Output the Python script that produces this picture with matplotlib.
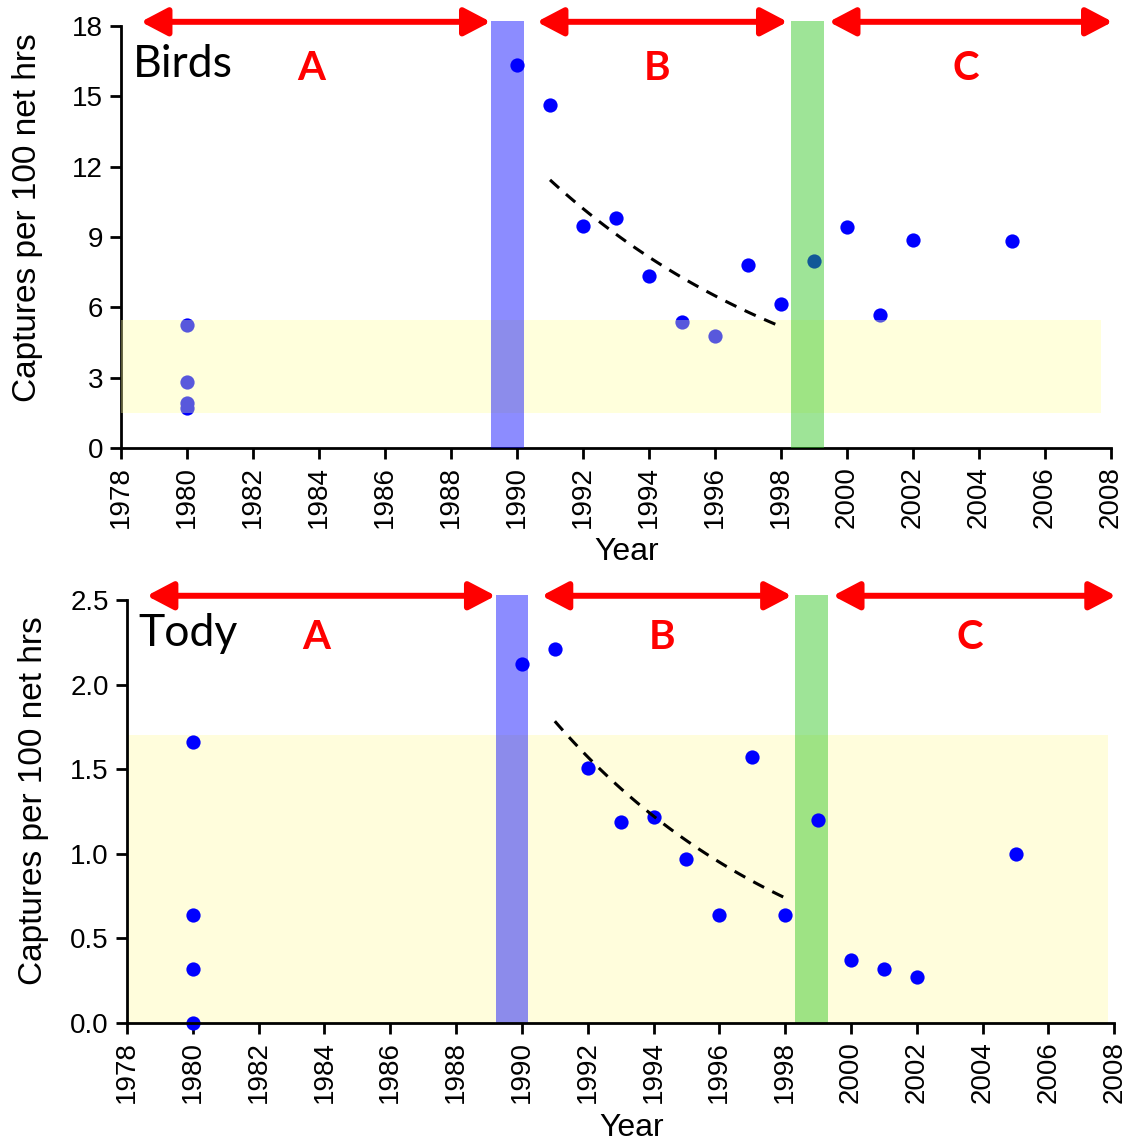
import matplotlib
matplotlib.use('Agg')
import matplotlib.pyplot as plt
import numpy as np

plt.rcParams['font.family'] = ['Liberation Sans', 'DejaVu Sans']

# captures per 100 net hours, by year
birds_years = [1980, 1980, 1980, 1980, 1990, 1991, 1992, 1993, 1994, 1995,
               1996, 1997, 1998, 1999, 2000, 2001, 2002, 2005]
birds_rates = [5.25, 2.8, 1.9, 1.7, 16.35, 14.63, 9.47, 9.81, 7.34, 5.38,
               4.78, 7.81, 6.14, 7.98, 9.43, 5.67, 8.87, 8.83]

tody_years = [1980, 1980, 1980, 1980, 1990, 1991, 1992, 1993, 1994, 1995,
              1996, 1997, 1998, 1999, 2000, 2001, 2002, 2005]
tody_rates = [1.66, 0.64, 0.32, 0.0, 2.12, 2.21, 1.51, 1.19, 1.22, 0.97,
              0.64, 1.57, 0.64, 1.20, 0.37, 0.32, 0.27, 1.00]

# hurricane years (Hugo, Georges) and the recovery periods between them
hugo = (1989.2, 1990.2)
georges = (1998.3, 1999.3)
periods = [('A', 1978.6, 1989.2), ('B', 1990.6, 1998.2), ('C', 1999.45, 2008.05)]
fit_years = (1991, 1998)

birds_baseline = (1.5, 5.45)
tody_baseline = (0.0, 1.7)

RED = '#ff0000'
LABEL_FONT = ['Lato', 'DejaVu Sans']


def exp_trend(years, rates):
    """Least squares exponential fit, like an Excel trendline."""
    x = np.array(years, dtype=float)
    y = np.array(rates, dtype=float)
    m = (x >= fit_years[0]) & (x <= fit_years[1])
    slope, icept = np.polyfit(x[m], np.log(y[m]), 1)
    xs = np.linspace(fit_years[0], fit_years[1], 60)
    return xs, np.exp(icept + slope * xs)


def draw_panel(ax, years, rates, ymax, yticks, fmt, name, baseline,
               bands_on_top, text_y, ylabel_y):
    ax.set_xlim(1978, 2008)
    ax.set_ylim(0, ymax)

    z_band = 3 if bands_on_top else 1
    if bands_on_top:
        ax.axhspan(*baseline, xmin=0, xmax=(2007.7 - 1978) / 30,
                   color=(1.0, 1.0, 0.61), alpha=0.35, lw=0, zorder=z_band)
    else:
        ax.axhspan(*baseline, xmin=0, xmax=(2007.8 - 1978) / 30,
                   color='#fffddc', lw=0, zorder=z_band)

    band_top = ymax * 1.012
    ax.fill_between(hugo, 0, band_top, color='#0000ff', alpha=0.45, lw=0,
                    zorder=z_band + 0.5, clip_on=False)
    ax.fill_between(georges, 0, band_top, color=(0.16, 0.77, 0.10), alpha=0.45,
                    lw=0, zorder=z_band + 0.5, clip_on=False)

    ax.scatter(years, rates, s=105, color='#0000ff', lw=0, zorder=2,
               clip_on=False)

    xs, ys = exp_trend(years, rates)
    ax.plot(xs, ys, color='black', lw=2.2, ls=(0, (4, 3)), zorder=5)

    arrow_y = ymax * 1.01
    for letter, x0, x1 in periods:
        ax.annotate('', xy=(x1, arrow_y), xytext=(x0, arrow_y),
                    arrowprops=dict(arrowstyle='<|-|>,head_length=0.8,head_width=0.42',
                                    color=RED, lw=4.3, shrinkA=0, shrinkB=0,
                                    mutation_scale=20),
                    annotation_clip=False, zorder=6)
        ax.text((x0 + x1) / 2 - 0.15, text_y, letter, color=RED, fontsize=29,
                fontweight='bold', family=LABEL_FONT, ha='center',
                va='baseline', transform=ax.get_xaxis_transform(), zorder=6)

    ax.text(0.012, text_y + 0.008, name, transform=ax.transAxes, fontsize=32,
            family=LABEL_FONT, ha='left', va='baseline', zorder=6)

    ax.set_xticks(range(1978, 2009, 2))
    ax.set_xticklabels([str(y) for y in range(1978, 2009, 2)], rotation=90)
    ax.set_yticks(yticks)
    ax.set_yticklabels([fmt.format(v) for v in yticks])
    ax.tick_params(axis='both', labelsize=20, width=2, length=8,
                   direction='out', pad=5)
    for side in ('top', 'right'):
        ax.spines[side].set_visible(False)
    for side in ('left', 'bottom'):
        ax.spines[side].set_linewidth(2)
    ax.set_xlabel('Year', fontsize=23)
    ax.set_ylabel('Captures per 100 net hrs', fontsize=24)
    ax.xaxis.set_label_coords(0.511, -0.212)
    ax.yaxis.set_label_coords(-0.079, ylabel_y)


fig = plt.figure(figsize=(11.27, 11.42), dpi=100)
ax_birds = fig.add_axes([0.1074, 0.6077, 0.8784, 0.3695])
ax_tody = fig.add_axes([0.1127, 0.1042, 0.8760, 0.3704])

draw_panel(ax_birds, birds_years, birds_rates, 18, list(range(0, 19, 3)),
           '{:g}', 'Birds', birds_baseline, bands_on_top=True,
           text_y=0.872, ylabel_y=0.545)
draw_panel(ax_tody, tody_years, tody_rates, 2.5, [0, 0.5, 1.0, 1.5, 2.0, 2.5],
           '{:.1f}', 'Tody', tody_baseline, bands_on_top=False,
           text_y=0.884, ylabel_y=0.525)

fig.savefig('out.png', dpi=100)
